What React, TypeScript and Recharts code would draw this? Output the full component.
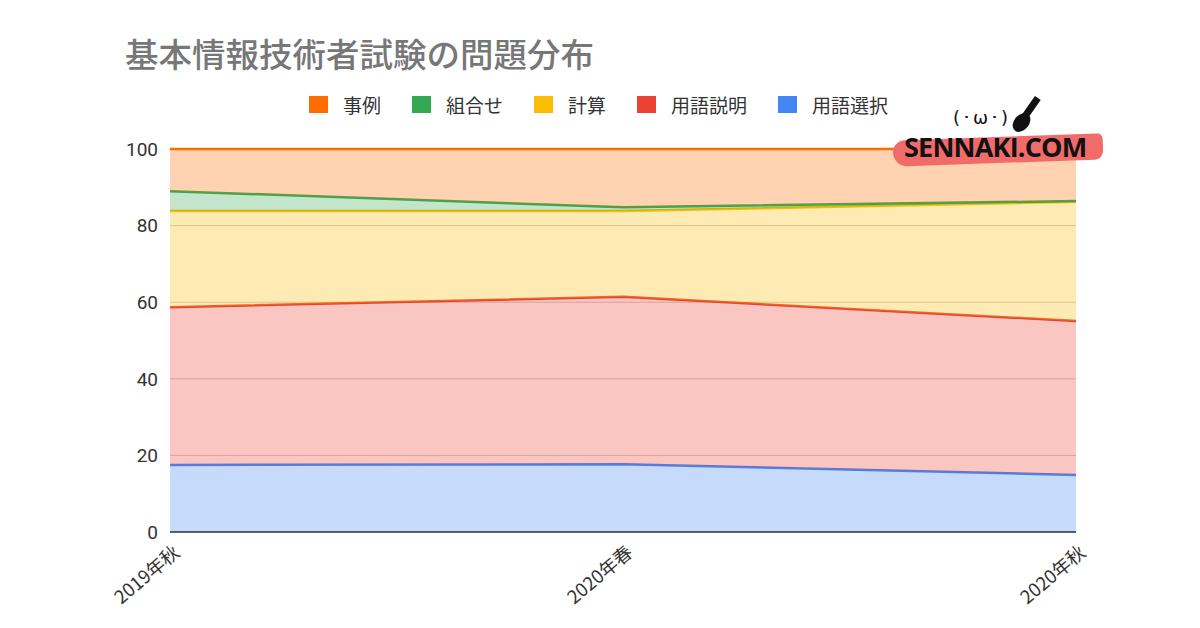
import { Area, AreaChart, CartesianGrid, XAxis, YAxis } from 'recharts'

// 試験回ごとの出題割合（%）
const exams = ['2019年秋', '2020年春', '2020年秋']
const termChoice = [17.5, 17.7, 14.9]
const termExplain = [41.2, 43.7, 40.2]
const calculation = [25.1, 22.4, 31.1]
const combination = [5.2, 1.0, 0.2]
const caseStudy = [11.0, 15.2, 13.6]
const yTicks = [0, 20, 40, 60, 80, 100]

// 下から積み上げる順番
const series = [
  { key: '用語選択', values: termChoice, color: '#4285F4' },
  { key: '用語説明', values: termExplain, color: '#EA4335' },
  { key: '計算', values: calculation, color: '#FBBC04' },
  { key: '組合せ', values: combination, color: '#34A853' },
  { key: '事例', values: caseStudy, color: '#FF6D01' },
]

const data = exams.map((exam, i) => {
  const row: Record<string, string | number> = { exam }
  series.forEach((s) => {
    row[s.key] = s.values[i]
  })
  return row
})

const font = '"Noto Sans CJK JP", Roboto, sans-serif'

function ExamTick({ x, y, payload }: any) {
  return (
    <g transform={`translate(${x + 2},${y + 4})`}>
      <text
        textAnchor="end"
        transform="rotate(-40)"
        dy={14}
        fill="#333"
        fontSize={18.5}
        fontFamily={font}
      >
        {payload.value}
      </text>
    </g>
  )
}

export default function App() {
  // 凡例は上の系列から順に並べる
  const legendItems = [...series].reverse()

  return (
    <div
      style={{
        position: 'fixed',
        left: 0,
        top: 0,
        width: 1200,
        height: 628,
        background: '#fff',
        fontFamily: font,
        overflow: 'hidden',
      }}
    >
      <div
        style={{
          position: 'absolute',
          left: 125,
          top: 28,
          fontSize: 33.5,
          fontWeight: 500,
          color: '#777',
          letterSpacing: 0,
        }}
      >
        基本情報技術者試験の問題分布
      </div>

      <div
        style={{
          position: 'absolute',
          left: 309,
          top: 91,
          display: 'flex',
          gap: 31,
          fontSize: 19,
          color: '#333',
        }}
      >
        {legendItems.map((s) => (
          <div key={s.key} style={{ display: 'flex', alignItems: 'center', gap: 15 }}>
            <span style={{ width: 19, height: 17, background: s.color, display: 'inline-block' }} />
            <span>{s.key}</span>
          </div>
        ))}
      </div>

      <AreaChart
        width={1200}
        height={628}
        data={data}
        margin={{ top: 149, right: 124, bottom: 16, left: 110 }}
      >
        <CartesianGrid vertical={false} stroke="#cccccc" />
        <XAxis
          dataKey="exam"
          height={80}
          tick={<ExamTick />}
          tickLine={false}
          axisLine={{ stroke: '#333', strokeWidth: 1.5 }}
          interval={0}
        />
        <YAxis
          width={60}
          domain={[0, 100]}
          ticks={yTicks}
          tickLine={false}
          axisLine={false}
          tickSize={0}
          tickMargin={12}
          tick={{ fill: '#333', fontSize: 19, fontFamily: 'Roboto, sans-serif' }}
        />
        {series.map((s) => (
          <Area
            key={s.key}
            type="linear"
            dataKey={s.key}
            stackId="exam"
            stroke={s.color}
            strokeWidth={2.5}
            fill={s.color}
            fillOpacity={0.3}
            isAnimationActive={false}
          />
        ))}
      </AreaChart>

      {/* ウォーターマーク */}
      <div style={{ position: 'absolute', left: 893, top: 134, width: 212, height: 30 }}>
        <div
          style={{
            position: 'absolute',
            left: 0,
            top: 3,
            width: 210,
            height: 26,
            background: '#f26b6b',
            borderRadius: '14px 6px 10px 16px',
            transform: 'rotate(-2deg)',
          }}
        />
        <div
          style={{
            position: 'absolute',
            left: 11,
            top: -6,
            fontFamily: '"Open Sans", sans-serif',
            fontWeight: 700,
            fontSize: 27,
            color: '#111',
            letterSpacing: -0.8,
          }}
        >
          SENNAKI.COM
        </div>
      </div>
      <div
        style={{
          position: 'absolute',
          left: 953,
          top: 107,
          fontSize: 18,
          color: '#111',
          fontFamily: '"DejaVu Sans", sans-serif',
          letterSpacing: 2,
        }}
      >
        (･ω･)
      </div>
      <div
        style={{
          position: 'absolute',
          left: 1014,
          top: 112,
          width: 15,
          height: 21,
          background: '#111',
          borderRadius: '50%',
          transform: 'rotate(40deg)',
        }}
      />
      <div
        style={{
          position: 'absolute',
          left: 1028,
          top: 96,
          width: 7,
          height: 22,
          background: '#111',
          transform: 'rotate(35deg)',
        }}
      />
    </div>
  )
}
